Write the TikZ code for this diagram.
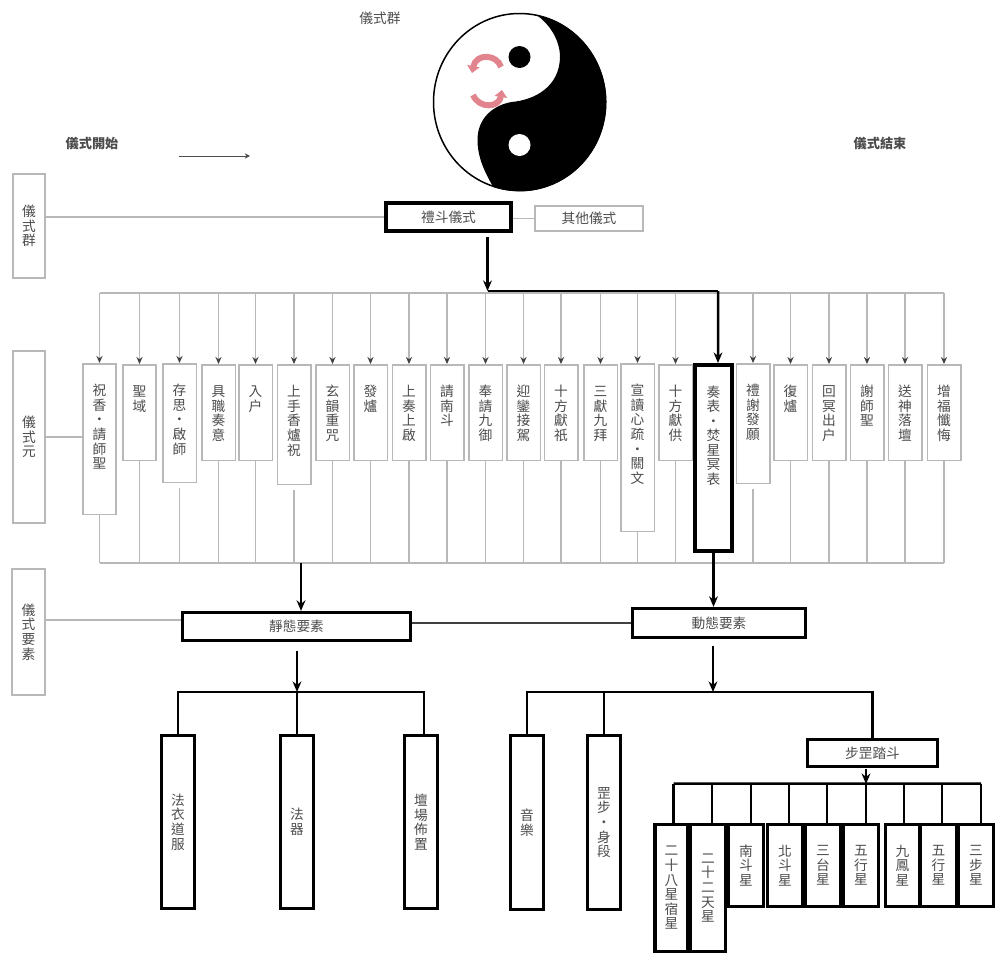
\documentclass[tikz,border=0pt]{standalone}
\usepackage{fontspec}
\setmainfont{Noto Sans CJK TC}
\usepackage{xcolor}
\usepackage{tikz}
\usetikzlibrary{shapes,arrows,arrows.meta,positioning,calc}
\definecolor{linegray}{gray}{0.72}
\definecolor{inkgray}{gray}{0.3}
\definecolor{swirlpink}{RGB}{226,132,142}

\begin{document}
\begin{tikzpicture}[
    x=0.02cm, y=-0.02cm,
    tag/.style={font=\fontsize{7.8}{8.3}\selectfont, text=inkgray, inner sep=0pt, align=center},
    graybox/.style={tag, draw=linegray, line width=0.03cm},
    rowbox/.style={graybox, anchor=north, text width=0.67cm, inner ysep=0.44cm, text height=0.2cm},
    heavybox/.style={tag, draw=black, line width=0.065cm},
    starbox/.style={heavybox, line width=0.075cm},
    thinline/.style={draw=linegray, line width=0.03cm},
    tick/.style={thinline, -{Stealth[length=4pt, width=3.5pt, color=black!75]}},
    heavy/.style={draw=black, line width=0.05cm},
    arrow/.style={heavy, -{Stealth[length=6pt, width=5pt]}}
]
\useasboundingbox (0,0) rectangle (996,957);

% Top labels
\node[tag] (topgroup) at (380,18) {儀式群};
\node[tag, font=\fontsize{7.5}{8.3}\selectfont\bfseries] (begin) at (92,143) {儀式開始};
\node[tag, font=\fontsize{7.5}{8.3}\selectfont\bfseries] (finish) at (880,143) {儀式結束};
\coordinate (flowa) at (179,156);
\coordinate (flowb) at (250,156);
\draw[draw=inkgray, line width=0.02cm, -{Stealth[length=3pt, width=3pt]}] (flowa) -- (flowb);

% Yin-yang
\begin{scope}[shift={(519.5,102)}, x=0.02cm, y=0.02cm]
\draw[fill=white, line width=0.03cm] (0,0) ellipse (86 and 88.5);
\fill[black] (17,87) arc (79:-108:86.5 and 89)
    .. controls (-35,-70) and (-42,-55) .. (-42,-38)
    .. controls (-42,-15) and (-25,-3) .. (-8,0)
    .. controls (15,2) and (40,15) .. (40.5,45)
    .. controls (40.5,62) and (30,78) .. (17,87);
\fill[black] (0,45) circle (11);
\fill[white] (0,-43) circle (11);
\end{scope}
\draw[swirlpink, line width=0.12cm, -{Triangle[length=4pt, width=7pt]}] (501,67) .. controls (497,54) and (476,53) .. (472,73);
\draw[swirlpink, line width=0.12cm, -{Triangle[length=4pt, width=7pt]}] (473,95) .. controls (479,109) and (499,108) .. (502,90);

% Group level
\node[graybox, minimum width=0.64cm, minimum height=2.08cm] (group) at (29,226) {儀\\式\\群};
\node[heavybox, line width=0.08cm, minimum width=2.5cm, minimum height=0.57cm] (lidou) at (448.5,217) {禮斗儀式};
\node[graybox, minimum width=2.16cm, minimum height=0.5cm] (other) at (589,218.5) {其他儀式};
\draw[thinline] (group.east |- lidou) -- (lidou.west);
\draw[thinline] (lidou.east |- other) -- (other.west);

% Element level
\node[graybox, minimum width=0.64cm, minimum height=3.44cm] (element) at (29,437) {儀\\式\\元};
\node[rowbox, text depth=1.94cm] (r1) at (99.5,363) {祝\\香\\・\\請\\師\\聖};
\node[rowbox, text depth=0.84cm] (r2) at (139.5,364) {聖\\域};
\node[rowbox, text depth=1.3cm] (r3) at (179.5,363) {存\\思\\・\\啟\\師};
\node[rowbox, text depth=0.84cm] (r4) at (218.5,364) {具\\職\\奏\\意};
\node[rowbox, text depth=0.84cm] (r5) at (255.5,364) {入\\户};
\node[rowbox, text depth=1.32cm] (r6) at (294,364) {上\\手\\香\\爐\\祝};
\node[rowbox, text depth=0.84cm] (r7) at (332.5,364) {玄\\韻\\重\\咒};
\node[rowbox, text depth=0.84cm] (r8) at (370.5,364) {發\\爐};
\node[rowbox, text depth=0.84cm] (r9) at (409,364) {上\\奏\\上\\啟};
\node[rowbox, text depth=0.84cm] (r10) at (447,364) {請\\南\\斗};
\node[rowbox, text depth=0.84cm] (r11) at (485.5,364) {奉\\請\\九\\御};
\node[rowbox, text depth=0.84cm] (r12) at (523.5,364) {迎\\鑾\\接\\駕};
\node[rowbox, text depth=0.84cm] (r13) at (561,364) {十\\方\\獻\\祇};
\node[rowbox, text depth=0.84cm] (r14) at (600.5,364) {三\\獻\\九\\拜};
\node[rowbox, text depth=2.28cm] (r15) at (637.5,363) {宣\\讀\\心\\疏\\・\\關\\文};
\node[rowbox, text depth=0.84cm] (r16) at (675.5,364) {十\\方\\獻\\供};
\node[rowbox, text depth=1.32cm] (r18) at (753,363) {禮\\謝\\發\\願};
\node[rowbox, draw=black, line width=0.08cm, text width=0.74cm, text depth=2.64cm] (r17) at (713.5,363) {奏\\表\\・\\焚\\星\\冥\\表};
\node[rowbox, text depth=0.84cm] (r19) at (790.5,364) {復\\爐};
\node[rowbox, text depth=0.84cm] (r20) at (829,364) {回\\冥\\出\\户};
\node[rowbox, text depth=0.84cm] (r21) at (867,364) {謝\\師\\聖};
\node[rowbox, text depth=0.84cm] (r22) at (905,364) {送\\神\\落\\壇};
\node[rowbox, text depth=0.84cm] (r23) at (944,364) {增\\福\\懺\\悔};
\draw[thinline] (element.east) -- (r1.west |- element);

% Upper bus
\coordinate (bustop) at (0,293);
\draw[thinline] (r1 |- bustop) -- (r23 |- bustop);
\draw[tick] (r1 |- bustop) -- (r1.north);
\draw[tick] (r2 |- bustop) -- (r2.north);
\draw[tick] (r3 |- bustop) -- (r3.north);
\draw[tick] (r4 |- bustop) -- (r4.north);
\draw[tick] (r5 |- bustop) -- (r5.north);
\draw[tick] (r6 |- bustop) -- (r6.north);
\draw[tick] (r7 |- bustop) -- (r7.north);
\draw[tick] (r8 |- bustop) -- (r8.north);
\draw[tick] (r9 |- bustop) -- (r9.north);
\draw[tick] (r10 |- bustop) -- (r10.north);
\draw[tick] (r11 |- bustop) -- (r11.north);
\draw[tick] (r12 |- bustop) -- (r12.north);
\draw[tick] (r13 |- bustop) -- (r13.north);
\draw[tick] (r14 |- bustop) -- (r14.north);
\draw[tick] (r15 |- bustop) -- (r15.north);
\draw[tick] (r16 |- bustop) -- (r16.north);
\draw[tick] (r18 |- bustop) -- (r18.north);
\draw[tick] (r19 |- bustop) -- (r19.north);
\draw[tick] (r20 |- bustop) -- (r20.north);
\draw[tick] (r21 |- bustop) -- (r21.north);
\draw[tick] (r22 |- bustop) -- (r22.north);
\draw[tick] (r23 |- bustop) -- (r23.north);

% Heavy route to the chosen element
\coordinate (lidouout) at (487.5,237);
\coordinate (turn) at (487.5,291);
\coordinate (chosen) at (718,291);
\draw[arrow] (lidouout) -- (turn);
\draw[heavy] (turn) -- (chosen);
\draw[arrow] (chosen) -- ([xshift=0.09cm]r17.north);

% Lower bus
\coordinate (busbot) at (0,563);
\draw[thinline] (r1 |- busbot) -- (r23 |- busbot);
\draw[thinline] (r1.south) -- (r1 |- busbot);
\draw[thinline] (r2.south) -- (r2 |- busbot);
\draw[thinline, shorten <=0.1cm] (r3.south) -- (r3 |- busbot);
\draw[thinline] (r4.south) -- (r4 |- busbot);
\draw[thinline] (r5.south) -- (r5 |- busbot);
\draw[thinline, shorten <=0.1cm] (r6.south) -- (r6 |- busbot);
\draw[thinline] (r7.south) -- (r7 |- busbot);
\draw[thinline] (r8.south) -- (r8 |- busbot);
\draw[thinline] (r9.south) -- (r9 |- busbot);
\draw[thinline] (r10.south) -- (r10 |- busbot);
\draw[thinline] (r11.south) -- (r11 |- busbot);
\draw[thinline] (r12.south) -- (r12 |- busbot);
\draw[thinline] (r13.south) -- (r13 |- busbot);
\draw[thinline] (r14.south) -- (r14 |- busbot);
\draw[thinline] (r15.south) -- (r15 |- busbot);
\draw[thinline] (r16.south) -- (r16 |- busbot);
\draw[thinline, shorten <=0.1cm] (r18.south) -- (r18 |- busbot);
\draw[thinline] (r19.south) -- (r19 |- busbot);
\draw[thinline] (r20.south) -- (r20 |- busbot);
\draw[thinline] (r21.south) -- (r21 |- busbot);
\draw[thinline] (r22.south) -- (r22 |- busbot);
\draw[thinline] (r23.south) -- (r23 |- busbot);

% Factor level
\node[graybox, minimum width=0.66cm, minimum height=2.52cm] (factor) at (28.5,632) {儀\\式\\要\\素};
\node[heavybox, minimum width=4.56cm, minimum height=0.56cm] (still) at (296.5,626.5) {靜態要素};
\node[heavybox, minimum width=3.46cm, minimum height=0.58cm] (moving) at (719,623) {動態要素};
\draw[thinline] ([yshift=0.13cm]still.west) -- ++(-136,0);
\draw[heavy, draw=black!75] (still.east |- moving) -- (moving.west);
\coordinate (stillin) at (301,563);
\draw[arrow] (stillin) -- (stillin |- still.north);
\draw[arrow] (r17.south) -- (r17.south |- moving.north);

% Static factors
\node[heavybox, minimum width=0.66cm, minimum height=3.46cm] (dress) at (178,822) {法\\衣\\道\\服};
\node[heavybox, minimum width=0.66cm, minimum height=3.46cm] (tools) at (297,822) {法\\器};
\node[heavybox, minimum width=0.66cm, minimum height=3.46cm] (altar) at (421,822) {壇\\場\\佈\\置};
\coordinate (stillbus) at (297,692);
\draw[arrow, shorten <=0.18cm] (stillbus |- still.south) -- (stillbus);
\draw[heavy] (dress.north) -- (dress.north |- stillbus) -- ([xshift=0.06cm]altar.north |- stillbus) -- ([xshift=0.06cm]altar.north);
\draw[heavy] (stillbus) -- (tools.north);

% Moving factors
\node[heavybox, minimum width=0.66cm, minimum height=3.48cm] (music) at (527,822.5) {音\\樂};
\node[heavybox, minimum width=0.66cm, minimum height=3.48cm] (dance) at (604,822.5) {罡\\步\\・\\身\\段};
\node[heavybox, minimum width=2.6cm, minimum height=0.54cm] (pace) at (872.5,753) {步罡踏斗};
\coordinate (movingout) at (713,646);
\coordinate (movingbus) at (713,692);
\draw[arrow] (movingout) -- (movingbus);
\draw[heavy] (music.north) -- (music.north |- movingbus) -- (pace.north |- movingbus) -- (pace.north);
\draw[heavy] (dance.north |- movingbus) -- (dance.north);

% Star boxes
\node[starbox, minimum width=0.66cm, minimum height=2.54cm] (s1) at (671.5,888) {二\\十\\八\\星\\宿\\星};
\node[starbox, minimum width=0.7cm, minimum height=2.54cm] (s2) at (708,888) {二\\十\\二\\天\\星};
\node[starbox, minimum width=0.7cm, minimum height=1.64cm] (s3) at (746,865.5) {南\\斗\\星};
\node[starbox, minimum width=0.7cm, minimum height=1.64cm] (s4) at (785,865.5) {北\\斗\\星};
\node[starbox, minimum width=0.7cm, minimum height=1.64cm] (s5) at (823,865.5) {三\\台\\星};
\node[starbox, minimum width=0.7cm, minimum height=1.64cm] (s6) at (861,865.5) {五\\行\\星};
\node[starbox, minimum width=0.68cm, minimum height=1.64cm] (s7) at (902.5,865.5) {九\\鳳\\星};
\node[starbox, minimum width=0.72cm, minimum height=1.64cm] (s8) at (938.5,865.5) {五\\行\\星};
\node[starbox, minimum width=0.7cm, minimum height=1.64cm] (s9) at (976,865.5) {三\\步\\星};
\coordinate (starin) at (866,769);
\coordinate (starbus) at (866,784);
\draw[arrow] (starin) -- (starbus);
\draw[heavy] ([shift={(2,-39)}]s1.north) -- ([shift={(5,-39)}]s9.north);
\draw[heavy] ([xshift=0.04cm]s1.north) -- ++(0,-39);
\draw[heavy] ([xshift=0.08cm]s2.north) -- ++(0,-39);
\draw[heavy] ([xshift=0.1cm]s3.north) -- ++(0,-39);
\draw[heavy] ([xshift=0.08cm]s4.north) -- ++(0,-39);
\draw[heavy] ([xshift=0.08cm]s5.north) -- ++(0,-39);
\draw[heavy] ([xshift=0.1cm]s6.north) -- ++(0,-39);
\draw[heavy] ([xshift=0.03cm]s7.north) -- ++(0,-39);
\draw[heavy] ([xshift=0.07cm]s8.north) -- ++(0,-39);
\draw[heavy] ([xshift=0.1cm]s9.north) -- ++(0,-39);

\end{tikzpicture}
\end{document}
